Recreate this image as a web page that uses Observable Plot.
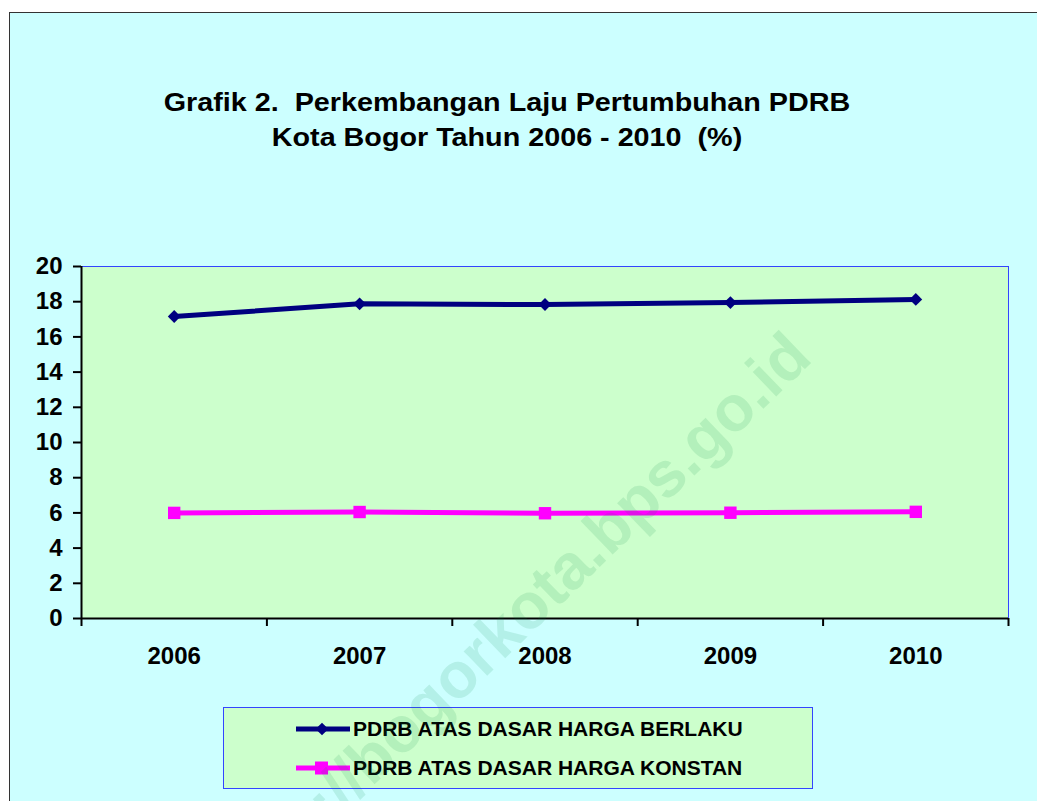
<!DOCTYPE html>
<html>
<head>
<meta charset="utf-8">
<script src="https://cdn.jsdelivr.net/npm/d3@7"></script>
<script src="https://cdn.jsdelivr.net/npm/@observablehq/plot@0.6"></script>
<style>
  html, body { margin: 0; padding: 0; background: #ffffff; }
  body { width: 1037px; height: 801px; overflow: hidden; position: relative;
         font-family: "Liberation Sans", Arial, sans-serif; }
  #panel { position: absolute; left: 9px; top: 12px; width: 1100px; height: 900px;
           background: #CCFFFF; border: 1px solid #333333; box-sizing: border-box; }
  .title { position: absolute; left: 0; width: 1014px; text-align: center; white-space: pre;
           font-weight: bold; font-size: 26px; line-height: 30px; color: #000;
           transform-origin: 507px 50%; transform: scaleX(1.105); }
  #plot { position: absolute; left: 0; top: 220px; }
  #legend { position: absolute; left: 223px; top: 707px; width: 590px; height: 82px;
            background: #CCFFCC; border: 1px solid #3344FF; box-sizing: border-box; }
  .lg-sw { position: absolute; }
  .lg-tx { position: absolute; white-space: pre; font-weight: bold; font-size: 21px;
           line-height: 20px; color: #000; }
  #wm { position: absolute; left: 0; top: 0; pointer-events: none; }
</style>
</head>
<body>
<div id="panel"></div>
<div id="t1" class="title"></div>
<div id="t2" class="title"></div>
<div id="plot"></div>
<div id="legend"></div>
<svg id="wm" width="1037" height="801"></svg>
<script>
// ---- data ----
const years = [2006, 2007, 2008, 2009, 2010];
const yearLabels = ["2006", "2007", "2008", "2009", "2010"];
const berlaku = [17.16, 17.88, 17.84, 17.95, 18.13];
const konstan = [6.00, 6.05, 5.98, 6.01, 6.06];
const yTicks = [0, 2, 4, 6, 8, 10, 12, 14, 16, 18, 20];
const seriesNames = ["PDRB ATAS DASAR HARGA BERLAKU", "PDRB ATAS DASAR HARGA KONSTAN"];
const seriesColors = ["#000080", "#FF00FF"];
const titleLines = ["Grafik 2.  Perkembangan Laju Pertumbuhan PDRB", "Kota Bogor Tahun 2006 - 2010  (%)"];
const watermark = "http://bogorkota.bps.go.id";

// ---- title ----
const t1 = document.getElementById("t1");
t1.textContent = titleLines[0];
t1.style.top = "87px";
const t2 = document.getElementById("t2");
t2.textContent = titleLines[1];
t2.style.top = "122px";

// ---- chart ----
const rowsB = years.map((yr, i) => ({year: yr, value: berlaku[i]}));
const rowsK = years.map((yr, i) => ({year: yr, value: konstan[i]}));
const boundaries = [years[0] - 0.5, ...years.map(y => y + 0.5)];

const chart = Plot.plot({
  width: 1037,
  height: 470,
  marginLeft: 81,
  marginRight: 29,
  marginTop: 46,
  marginBottom: 72,
  style: {background: "transparent", color: "#000", fontFamily: "'Liberation Sans', Arial, sans-serif",
          fontWeight: "bold", overflow: "visible"},
  x: {type: "linear", domain: [boundaries[0], boundaries[boundaries.length - 1]]},
  y: {domain: [0, 20]},
  marks: [
    Plot.frame({fill: "#CCFFCC", stroke: "#3344FF", strokeWidth: 1}),
    Plot.axisY({ticks: yTicks, tickSize: 8, tickPadding: 11, fontSize: 24, strokeWidth: 2, label: null,
                tickFormat: d => String(d)}),
    Plot.axisX({ticks: boundaries, tickSize: 8, tickFormat: () => "", strokeWidth: 2, label: null}),
    Plot.axisX({ticks: years, tickSize: 0, tickPadding: 28, fontSize: 24, label: null,
                tickFormat: d => yearLabels[years.indexOf(d)]}),
    Plot.ruleY([0], {stroke: "#000", strokeWidth: 2}),
    Plot.ruleX([boundaries[0]], {stroke: "#000", strokeWidth: 2}),
    Plot.line(rowsB, {x: "year", y: "value", stroke: seriesColors[0], strokeWidth: 5}),
    Plot.dot(rowsB, {x: "year", y: "value", symbol: "square", r: 5.1, rotate: 45, fill: seriesColors[0], stroke: "none"}),
    Plot.line(rowsK, {x: "year", y: "value", stroke: seriesColors[1], strokeWidth: 5}),
    Plot.dot(rowsK, {x: "year", y: "value", symbol: "square", r: 7.0, fill: seriesColors[1], stroke: "none"})
  ]
});
document.getElementById("plot").appendChild(chart);

// ---- legend ----
const legend = document.getElementById("legend");
const rowCY = [21, 60];           // swatch centre inside legend box
seriesNames.forEach((name, i) => {
  const sw = document.createElementNS("http://www.w3.org/2000/svg", "svg");
  sw.setAttribute("class", "lg-sw");
  sw.setAttribute("width", 60);
  sw.setAttribute("height", 20);
  sw.style.left = "70px";
  sw.style.top = (rowCY[i] - 10) + "px";
  const ln = document.createElementNS("http://www.w3.org/2000/svg", "line");
  ln.setAttribute("x1", 2); ln.setAttribute("x2", 56);
  ln.setAttribute("y1", 10); ln.setAttribute("y2", 10);
  ln.setAttribute("stroke", seriesColors[i]); ln.setAttribute("stroke-width", 5);
  sw.appendChild(ln);
  const mk = document.createElementNS("http://www.w3.org/2000/svg", "rect");
  if (i === 0) {
    mk.setAttribute("x", -4.5); mk.setAttribute("y", -4.5);
    mk.setAttribute("width", 9); mk.setAttribute("height", 9);
    mk.setAttribute("transform", "translate(28,10) rotate(45)");
  } else {
    mk.setAttribute("x", 21); mk.setAttribute("y", 3.5);
    mk.setAttribute("width", 13); mk.setAttribute("height", 13);
  }
  mk.setAttribute("fill", seriesColors[i]);
  sw.appendChild(mk);
  legend.appendChild(sw);
  const tx = document.createElement("div");
  tx.className = "lg-tx";
  tx.textContent = name;
  tx.style.left = "129px";
  tx.style.top = (rowCY[i] - 10) + "px";
  legend.appendChild(tx);
});

// ---- watermark ----
const wm = document.getElementById("wm");
const wt = document.createElementNS("http://www.w3.org/2000/svg", "text");
wt.setAttribute("transform", "translate(814,360) rotate(-44)");
wt.setAttribute("text-anchor", "end");
wt.setAttribute("font-family", "'Liberation Sans', Arial, sans-serif");
wt.setAttribute("font-weight", "bold");
wt.setAttribute("font-size", 64);
wt.setAttribute("fill", "rgb(0,128,64)");
wt.setAttribute("fill-opacity", 0.12);
wt.textContent = watermark;
wm.appendChild(wt);
</script>
</body>
</html>
